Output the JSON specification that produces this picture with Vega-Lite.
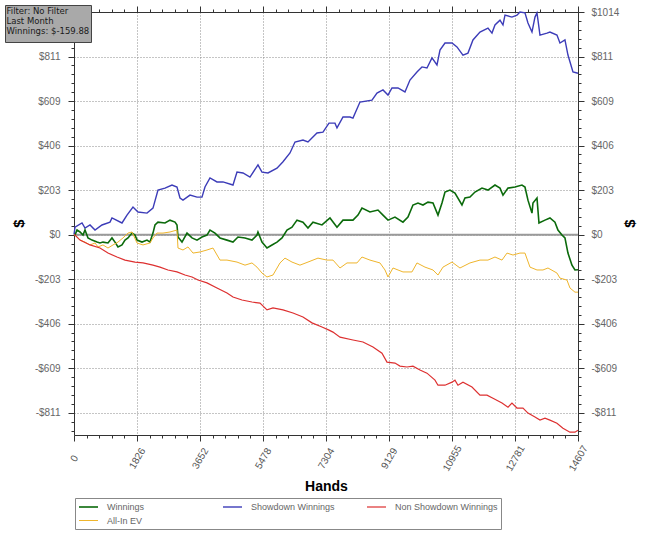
{
  "$schema": "https://vega.github.io/schema/vega-lite/v6.json",
  "width": 504,
  "height": 423,
  "autosize": {"type": "none"},
  "padding": {"left": 74, "top": 12, "right": 72, "bottom": 102},
  "background": "white",
  "config": {
    "view": {"stroke": null},
    "font": "Liberation Sans"
  },
  "datasets": {
    "zero": [{"label": "info"}]
  },
  "data": {
    "values": [
      {"hands": 0, "series": "Showdown Winnings", "value": 0},
      {"hands": 29, "series": "Showdown Winnings", "value": 34},
      {"hands": 232, "series": "Showdown Winnings", "value": 53},
      {"hands": 319, "series": "Showdown Winnings", "value": 30},
      {"hands": 464, "series": "Showdown Winnings", "value": 44},
      {"hands": 609, "series": "Showdown Winnings", "value": 21},
      {"hands": 811, "series": "Showdown Winnings", "value": 44},
      {"hands": 1043, "series": "Showdown Winnings", "value": 57},
      {"hands": 1101, "series": "Showdown Winnings", "value": 76},
      {"hands": 1391, "series": "Showdown Winnings", "value": 53},
      {"hands": 1536, "series": "Showdown Winnings", "value": 89},
      {"hands": 1710, "series": "Showdown Winnings", "value": 126},
      {"hands": 1855, "series": "Showdown Winnings", "value": 103},
      {"hands": 2116, "series": "Showdown Winnings", "value": 98},
      {"hands": 2289, "series": "Showdown Winnings", "value": 121},
      {"hands": 2434, "series": "Showdown Winnings", "value": 203},
      {"hands": 2637, "series": "Showdown Winnings", "value": 212},
      {"hands": 2840, "series": "Showdown Winnings", "value": 226},
      {"hands": 2985, "series": "Showdown Winnings", "value": 217},
      {"hands": 3072, "series": "Showdown Winnings", "value": 167},
      {"hands": 3159, "series": "Showdown Winnings", "value": 157},
      {"hands": 3362, "series": "Showdown Winnings", "value": 180},
      {"hands": 3565, "series": "Showdown Winnings", "value": 171},
      {"hands": 3709, "series": "Showdown Winnings", "value": 171},
      {"hands": 3796, "series": "Showdown Winnings", "value": 217},
      {"hands": 3941, "series": "Showdown Winnings", "value": 258},
      {"hands": 4144, "series": "Showdown Winnings", "value": 240},
      {"hands": 4318, "series": "Showdown Winnings", "value": 240},
      {"hands": 4608, "series": "Showdown Winnings", "value": 226},
      {"hands": 4724, "series": "Showdown Winnings", "value": 285},
      {"hands": 4898, "series": "Showdown Winnings", "value": 281},
      {"hands": 5100, "series": "Showdown Winnings", "value": 262},
      {"hands": 5332, "series": "Showdown Winnings", "value": 318},
      {"hands": 5448, "series": "Showdown Winnings", "value": 285},
      {"hands": 5622, "series": "Showdown Winnings", "value": 281},
      {"hands": 5883, "series": "Showdown Winnings", "value": 303},
      {"hands": 6057, "series": "Showdown Winnings", "value": 332},
      {"hands": 6260, "series": "Showdown Winnings", "value": 372},
      {"hands": 6405, "series": "Showdown Winnings", "value": 422},
      {"hands": 6636, "series": "Showdown Winnings", "value": 431},
      {"hands": 6781, "series": "Showdown Winnings", "value": 422},
      {"hands": 7042, "series": "Showdown Winnings", "value": 463},
      {"hands": 7216, "series": "Showdown Winnings", "value": 467},
      {"hands": 7390, "series": "Showdown Winnings", "value": 508},
      {"hands": 7564, "series": "Showdown Winnings", "value": 508},
      {"hands": 7622, "series": "Showdown Winnings", "value": 486},
      {"hands": 7796, "series": "Showdown Winnings", "value": 536},
      {"hands": 7998, "series": "Showdown Winnings", "value": 536},
      {"hands": 8085, "series": "Showdown Winnings", "value": 531},
      {"hands": 8288, "series": "Showdown Winnings", "value": 604},
      {"hands": 8636, "series": "Showdown Winnings", "value": 613},
      {"hands": 8781, "series": "Showdown Winnings", "value": 645},
      {"hands": 8955, "series": "Showdown Winnings", "value": 659},
      {"hands": 9100, "series": "Showdown Winnings", "value": 636},
      {"hands": 9216, "series": "Showdown Winnings", "value": 668},
      {"hands": 9390, "series": "Showdown Winnings", "value": 668},
      {"hands": 9592, "series": "Showdown Winnings", "value": 650},
      {"hands": 9737, "series": "Showdown Winnings", "value": 704},
      {"hands": 9940, "series": "Showdown Winnings", "value": 741},
      {"hands": 10085, "series": "Showdown Winnings", "value": 764},
      {"hands": 10230, "series": "Showdown Winnings", "value": 759},
      {"hands": 10375, "series": "Showdown Winnings", "value": 805},
      {"hands": 10520, "series": "Showdown Winnings", "value": 773},
      {"hands": 10607, "series": "Showdown Winnings", "value": 841},
      {"hands": 10752, "series": "Showdown Winnings", "value": 873},
      {"hands": 10955, "series": "Showdown Winnings", "value": 873},
      {"hands": 11099, "series": "Showdown Winnings", "value": 855},
      {"hands": 11273, "series": "Showdown Winnings", "value": 818},
      {"hands": 11418, "series": "Showdown Winnings", "value": 827},
      {"hands": 11563, "series": "Showdown Winnings", "value": 887},
      {"hands": 11766, "series": "Showdown Winnings", "value": 923},
      {"hands": 11998, "series": "Showdown Winnings", "value": 941},
      {"hands": 12114, "series": "Showdown Winnings", "value": 918},
      {"hands": 12201, "series": "Showdown Winnings", "value": 955},
      {"hands": 12346, "series": "Showdown Winnings", "value": 977},
      {"hands": 12433, "series": "Showdown Winnings", "value": 955},
      {"hands": 12491, "series": "Showdown Winnings", "value": 1000},
      {"hands": 12693, "series": "Showdown Winnings", "value": 991},
      {"hands": 12838, "series": "Showdown Winnings", "value": 1000},
      {"hands": 12925, "series": "Showdown Winnings", "value": 1014},
      {"hands": 13070, "series": "Showdown Winnings", "value": 1010},
      {"hands": 13157, "series": "Showdown Winnings", "value": 964},
      {"hands": 13273, "series": "Showdown Winnings", "value": 923},
      {"hands": 13360, "series": "Showdown Winnings", "value": 991},
      {"hands": 13418, "series": "Showdown Winnings", "value": 1010},
      {"hands": 13447, "series": "Showdown Winnings", "value": 977},
      {"hands": 13505, "series": "Showdown Winnings", "value": 909},
      {"hands": 13708, "series": "Showdown Winnings", "value": 918},
      {"hands": 13794, "series": "Showdown Winnings", "value": 923},
      {"hands": 13997, "series": "Showdown Winnings", "value": 909},
      {"hands": 14084, "series": "Showdown Winnings", "value": 873},
      {"hands": 14229, "series": "Showdown Winnings", "value": 887},
      {"hands": 14316, "series": "Showdown Winnings", "value": 818},
      {"hands": 14461, "series": "Showdown Winnings", "value": 741},
      {"hands": 14607, "series": "Showdown Winnings", "value": 735},

      {"hands": 0, "series": "Winnings", "value": 0},
      {"hands": 29, "series": "Winnings", "value": -2},
      {"hands": 87, "series": "Winnings", "value": 21},
      {"hands": 174, "series": "Winnings", "value": 12},
      {"hands": 261, "series": "Winnings", "value": -2},
      {"hands": 319, "series": "Winnings", "value": 21},
      {"hands": 406, "series": "Winnings", "value": -15},
      {"hands": 522, "series": "Winnings", "value": -25},
      {"hands": 667, "series": "Winnings", "value": -34},
      {"hands": 753, "series": "Winnings", "value": -38},
      {"hands": 840, "series": "Winnings", "value": -34},
      {"hands": 985, "series": "Winnings", "value": -38},
      {"hands": 1101, "series": "Winnings", "value": -15},
      {"hands": 1188, "series": "Winnings", "value": -34},
      {"hands": 1275, "series": "Winnings", "value": -56},
      {"hands": 1391, "series": "Winnings", "value": -47},
      {"hands": 1478, "series": "Winnings", "value": -25},
      {"hands": 1565, "series": "Winnings", "value": -15},
      {"hands": 1681, "series": "Winnings", "value": 7},
      {"hands": 1768, "series": "Winnings", "value": -2},
      {"hands": 1826, "series": "Winnings", "value": -25},
      {"hands": 1971, "series": "Winnings", "value": -34},
      {"hands": 2116, "series": "Winnings", "value": -25},
      {"hands": 2202, "series": "Winnings", "value": -34},
      {"hands": 2289, "series": "Winnings", "value": 7},
      {"hands": 2347, "series": "Winnings", "value": 44},
      {"hands": 2434, "series": "Winnings", "value": 57},
      {"hands": 2637, "series": "Winnings", "value": 53},
      {"hands": 2782, "series": "Winnings", "value": 66},
      {"hands": 2927, "series": "Winnings", "value": 57},
      {"hands": 2985, "series": "Winnings", "value": 44},
      {"hands": 3014, "series": "Winnings", "value": -11},
      {"hands": 3130, "series": "Winnings", "value": -34},
      {"hands": 3275, "series": "Winnings", "value": 7},
      {"hands": 3420, "series": "Winnings", "value": -15},
      {"hands": 3565, "series": "Winnings", "value": -25},
      {"hands": 3709, "series": "Winnings", "value": -11},
      {"hands": 3854, "series": "Winnings", "value": -2},
      {"hands": 3941, "series": "Winnings", "value": 21},
      {"hands": 4086, "series": "Winnings", "value": 7},
      {"hands": 4231, "series": "Winnings", "value": -15},
      {"hands": 4434, "series": "Winnings", "value": -25},
      {"hands": 4608, "series": "Winnings", "value": -34},
      {"hands": 4753, "series": "Winnings", "value": -11},
      {"hands": 4956, "series": "Winnings", "value": -15},
      {"hands": 5158, "series": "Winnings", "value": -25},
      {"hands": 5303, "series": "Winnings", "value": -2},
      {"hands": 5332, "series": "Winnings", "value": 12},
      {"hands": 5448, "series": "Winnings", "value": -34},
      {"hands": 5593, "series": "Winnings", "value": -61},
      {"hands": 5738, "series": "Winnings", "value": -47},
      {"hands": 5883, "series": "Winnings", "value": -34},
      {"hands": 6028, "series": "Winnings", "value": -15},
      {"hands": 6173, "series": "Winnings", "value": 21},
      {"hands": 6318, "series": "Winnings", "value": 34},
      {"hands": 6463, "series": "Winnings", "value": 66},
      {"hands": 6636, "series": "Winnings", "value": 57},
      {"hands": 6781, "series": "Winnings", "value": 30},
      {"hands": 6926, "series": "Winnings", "value": 57},
      {"hands": 7187, "series": "Winnings", "value": 44},
      {"hands": 7419, "series": "Winnings", "value": 76},
      {"hands": 7622, "series": "Winnings", "value": 34},
      {"hands": 7796, "series": "Winnings", "value": 66},
      {"hands": 8085, "series": "Winnings", "value": 66},
      {"hands": 8230, "series": "Winnings", "value": 89},
      {"hands": 8346, "series": "Winnings", "value": 121},
      {"hands": 8578, "series": "Winnings", "value": 103},
      {"hands": 8810, "series": "Winnings", "value": 112},
      {"hands": 8955, "series": "Winnings", "value": 89},
      {"hands": 9100, "series": "Winnings", "value": 66},
      {"hands": 9303, "series": "Winnings", "value": 80},
      {"hands": 9534, "series": "Winnings", "value": 57},
      {"hands": 9679, "series": "Winnings", "value": 80},
      {"hands": 9824, "series": "Winnings", "value": 135},
      {"hands": 9969, "series": "Winnings", "value": 144},
      {"hands": 10114, "series": "Winnings", "value": 135},
      {"hands": 10259, "series": "Winnings", "value": 148},
      {"hands": 10404, "series": "Winnings", "value": 144},
      {"hands": 10549, "series": "Winnings", "value": 89},
      {"hands": 10665, "series": "Winnings", "value": 144},
      {"hands": 10752, "series": "Winnings", "value": 194},
      {"hands": 10896, "series": "Winnings", "value": 203},
      {"hands": 11041, "series": "Winnings", "value": 189},
      {"hands": 11244, "series": "Winnings", "value": 135},
      {"hands": 11331, "series": "Winnings", "value": 167},
      {"hands": 11476, "series": "Winnings", "value": 171},
      {"hands": 11621, "series": "Winnings", "value": 194},
      {"hands": 11824, "series": "Winnings", "value": 212},
      {"hands": 11998, "series": "Winnings", "value": 203},
      {"hands": 12201, "series": "Winnings", "value": 226},
      {"hands": 12346, "series": "Winnings", "value": 212},
      {"hands": 12433, "series": "Winnings", "value": 180},
      {"hands": 12578, "series": "Winnings", "value": 212},
      {"hands": 12780, "series": "Winnings", "value": 217},
      {"hands": 12983, "series": "Winnings", "value": 226},
      {"hands": 13070, "series": "Winnings", "value": 217},
      {"hands": 13157, "series": "Winnings", "value": 157},
      {"hands": 13273, "series": "Winnings", "value": 98},
      {"hands": 13302, "series": "Winnings", "value": 144},
      {"hands": 13418, "series": "Winnings", "value": 167},
      {"hands": 13476, "series": "Winnings", "value": 53},
      {"hands": 13650, "series": "Winnings", "value": 66},
      {"hands": 13794, "series": "Winnings", "value": 76},
      {"hands": 13939, "series": "Winnings", "value": 57},
      {"hands": 14026, "series": "Winnings", "value": 21},
      {"hands": 14142, "series": "Winnings", "value": -2},
      {"hands": 14229, "series": "Winnings", "value": -15},
      {"hands": 14316, "series": "Winnings", "value": -84},
      {"hands": 14432, "series": "Winnings", "value": -139},
      {"hands": 14519, "series": "Winnings", "value": -161},
      {"hands": 14607, "series": "Winnings", "value": -160},

      {"hands": 0, "series": "All-In EV", "value": 0},
      {"hands": 29, "series": "All-In EV", "value": -2},
      {"hands": 174, "series": "All-In EV", "value": -25},
      {"hands": 319, "series": "All-In EV", "value": -34},
      {"hands": 464, "series": "All-In EV", "value": -47},
      {"hands": 609, "series": "All-In EV", "value": -38},
      {"hands": 696, "series": "All-In EV", "value": -56},
      {"hands": 840, "series": "All-In EV", "value": -47},
      {"hands": 985, "series": "All-In EV", "value": -61},
      {"hands": 1130, "series": "All-In EV", "value": -47},
      {"hands": 1275, "series": "All-In EV", "value": -34},
      {"hands": 1420, "series": "All-In EV", "value": -15},
      {"hands": 1565, "series": "All-In EV", "value": 7},
      {"hands": 1681, "series": "All-In EV", "value": 12},
      {"hands": 1826, "series": "All-In EV", "value": -38},
      {"hands": 2000, "series": "All-In EV", "value": -47},
      {"hands": 2202, "series": "All-In EV", "value": -38},
      {"hands": 2289, "series": "All-In EV", "value": -15},
      {"hands": 2405, "series": "All-In EV", "value": 7},
      {"hands": 2579, "series": "All-In EV", "value": 7},
      {"hands": 2782, "series": "All-In EV", "value": 12},
      {"hands": 2985, "series": "All-In EV", "value": 21},
      {"hands": 3014, "series": "All-In EV", "value": -61},
      {"hands": 3159, "series": "All-In EV", "value": -70},
      {"hands": 3304, "series": "All-In EV", "value": -56},
      {"hands": 3449, "series": "All-In EV", "value": -84},
      {"hands": 3652, "series": "All-In EV", "value": -79},
      {"hands": 3854, "series": "All-In EV", "value": -70},
      {"hands": 4028, "series": "All-In EV", "value": -61},
      {"hands": 4231, "series": "All-In EV", "value": -116},
      {"hands": 4434, "series": "All-In EV", "value": -116},
      {"hands": 4724, "series": "All-In EV", "value": -125},
      {"hands": 4956, "series": "All-In EV", "value": -139},
      {"hands": 5158, "series": "All-In EV", "value": -129},
      {"hands": 5303, "series": "All-In EV", "value": -148},
      {"hands": 5448, "series": "All-In EV", "value": -175},
      {"hands": 5593, "series": "All-In EV", "value": -193},
      {"hands": 5767, "series": "All-In EV", "value": -184},
      {"hands": 5970, "series": "All-In EV", "value": -129},
      {"hands": 6115, "series": "All-In EV", "value": -107},
      {"hands": 6318, "series": "All-In EV", "value": -125},
      {"hands": 6549, "series": "All-In EV", "value": -139},
      {"hands": 6781, "series": "All-In EV", "value": -125},
      {"hands": 7071, "series": "All-In EV", "value": -107},
      {"hands": 7332, "series": "All-In EV", "value": -116},
      {"hands": 7506, "series": "All-In EV", "value": -116},
      {"hands": 7709, "series": "All-In EV", "value": -152},
      {"hands": 7912, "series": "All-In EV", "value": -129},
      {"hands": 8201, "series": "All-In EV", "value": -129},
      {"hands": 8346, "series": "All-In EV", "value": -102},
      {"hands": 8578, "series": "All-In EV", "value": -116},
      {"hands": 8868, "series": "All-In EV", "value": -129},
      {"hands": 9013, "series": "All-In EV", "value": -161},
      {"hands": 9100, "series": "All-In EV", "value": -193},
      {"hands": 9245, "series": "All-In EV", "value": -152},
      {"hands": 9534, "series": "All-In EV", "value": -170},
      {"hands": 9795, "series": "All-In EV", "value": -170},
      {"hands": 9940, "series": "All-In EV", "value": -129},
      {"hands": 10172, "series": "All-In EV", "value": -148},
      {"hands": 10404, "series": "All-In EV", "value": -161},
      {"hands": 10549, "series": "All-In EV", "value": -184},
      {"hands": 10694, "series": "All-In EV", "value": -148},
      {"hands": 10955, "series": "All-In EV", "value": -125},
      {"hands": 11186, "series": "All-In EV", "value": -152},
      {"hands": 11476, "series": "All-In EV", "value": -129},
      {"hands": 11766, "series": "All-In EV", "value": -116},
      {"hands": 11998, "series": "All-In EV", "value": -116},
      {"hands": 12201, "series": "All-In EV", "value": -102},
      {"hands": 12404, "series": "All-In EV", "value": -116},
      {"hands": 12549, "series": "All-In EV", "value": -84},
      {"hands": 12722, "series": "All-In EV", "value": -93},
      {"hands": 12925, "series": "All-In EV", "value": -84},
      {"hands": 13070, "series": "All-In EV", "value": -84},
      {"hands": 13215, "series": "All-In EV", "value": -148},
      {"hands": 13418, "series": "All-In EV", "value": -161},
      {"hands": 13592, "series": "All-In EV", "value": -161},
      {"hands": 13737, "series": "All-In EV", "value": -152},
      {"hands": 13997, "series": "All-In EV", "value": -175},
      {"hands": 14084, "series": "All-In EV", "value": -198},
      {"hands": 14287, "series": "All-In EV", "value": -207},
      {"hands": 14374, "series": "All-In EV", "value": -243},
      {"hands": 14519, "series": "All-In EV", "value": -262},
      {"hands": 14607, "series": "All-In EV", "value": -262},

      {"hands": 0, "series": "Non Showdown Winnings", "value": 0},
      {"hands": 29, "series": "Non Showdown Winnings", "value": -2},
      {"hands": 174, "series": "Non Showdown Winnings", "value": -25},
      {"hands": 464, "series": "Non Showdown Winnings", "value": -47},
      {"hands": 753, "series": "Non Showdown Winnings", "value": -61},
      {"hands": 985, "series": "Non Showdown Winnings", "value": -84},
      {"hands": 1246, "series": "Non Showdown Winnings", "value": -102},
      {"hands": 1478, "series": "Non Showdown Winnings", "value": -116},
      {"hands": 1768, "series": "Non Showdown Winnings", "value": -125},
      {"hands": 2000, "series": "Non Showdown Winnings", "value": -129},
      {"hands": 2289, "series": "Non Showdown Winnings", "value": -139},
      {"hands": 2492, "series": "Non Showdown Winnings", "value": -148},
      {"hands": 2724, "series": "Non Showdown Winnings", "value": -161},
      {"hands": 2985, "series": "Non Showdown Winnings", "value": -170},
      {"hands": 3217, "series": "Non Showdown Winnings", "value": -184},
      {"hands": 3420, "series": "Non Showdown Winnings", "value": -193},
      {"hands": 3594, "series": "Non Showdown Winnings", "value": -207},
      {"hands": 3854, "series": "Non Showdown Winnings", "value": -220},
      {"hands": 4144, "series": "Non Showdown Winnings", "value": -243},
      {"hands": 4434, "series": "Non Showdown Winnings", "value": -266},
      {"hands": 4608, "series": "Non Showdown Winnings", "value": -284},
      {"hands": 4869, "series": "Non Showdown Winnings", "value": -298},
      {"hands": 5158, "series": "Non Showdown Winnings", "value": -307},
      {"hands": 5390, "series": "Non Showdown Winnings", "value": -312},
      {"hands": 5593, "series": "Non Showdown Winnings", "value": -343},
      {"hands": 5767, "series": "Non Showdown Winnings", "value": -334},
      {"hands": 6057, "series": "Non Showdown Winnings", "value": -343},
      {"hands": 6347, "series": "Non Showdown Winnings", "value": -357},
      {"hands": 6636, "series": "Non Showdown Winnings", "value": -375},
      {"hands": 6897, "series": "Non Showdown Winnings", "value": -402},
      {"hands": 7187, "series": "Non Showdown Winnings", "value": -421},
      {"hands": 7390, "series": "Non Showdown Winnings", "value": -435},
      {"hands": 7506, "series": "Non Showdown Winnings", "value": -444},
      {"hands": 7709, "series": "Non Showdown Winnings", "value": -467},
      {"hands": 8085, "series": "Non Showdown Winnings", "value": -480},
      {"hands": 8375, "series": "Non Showdown Winnings", "value": -489},
      {"hands": 8665, "series": "Non Showdown Winnings", "value": -512},
      {"hands": 8926, "series": "Non Showdown Winnings", "value": -540},
      {"hands": 9071, "series": "Non Showdown Winnings", "value": -581},
      {"hands": 9303, "series": "Non Showdown Winnings", "value": -585},
      {"hands": 9447, "series": "Non Showdown Winnings", "value": -599},
      {"hands": 9650, "series": "Non Showdown Winnings", "value": -603},
      {"hands": 9824, "series": "Non Showdown Winnings", "value": -599},
      {"hands": 10027, "series": "Non Showdown Winnings", "value": -617},
      {"hands": 10230, "series": "Non Showdown Winnings", "value": -631},
      {"hands": 10462, "series": "Non Showdown Winnings", "value": -663},
      {"hands": 10549, "series": "Non Showdown Winnings", "value": -686},
      {"hands": 10752, "series": "Non Showdown Winnings", "value": -686},
      {"hands": 10955, "series": "Non Showdown Winnings", "value": -672},
      {"hands": 11041, "series": "Non Showdown Winnings", "value": -663},
      {"hands": 11128, "series": "Non Showdown Winnings", "value": -686},
      {"hands": 11273, "series": "Non Showdown Winnings", "value": -672},
      {"hands": 11534, "series": "Non Showdown Winnings", "value": -694},
      {"hands": 11766, "series": "Non Showdown Winnings", "value": -731},
      {"hands": 11969, "series": "Non Showdown Winnings", "value": -731},
      {"hands": 12143, "series": "Non Showdown Winnings", "value": -745},
      {"hands": 12404, "series": "Non Showdown Winnings", "value": -767},
      {"hands": 12578, "series": "Non Showdown Winnings", "value": -786},
      {"hands": 12693, "series": "Non Showdown Winnings", "value": -767},
      {"hands": 12838, "series": "Non Showdown Winnings", "value": -790},
      {"hands": 13012, "series": "Non Showdown Winnings", "value": -790},
      {"hands": 13157, "series": "Non Showdown Winnings", "value": -813},
      {"hands": 13360, "series": "Non Showdown Winnings", "value": -831},
      {"hands": 13505, "series": "Non Showdown Winnings", "value": -845},
      {"hands": 13650, "series": "Non Showdown Winnings", "value": -836},
      {"hands": 13794, "series": "Non Showdown Winnings", "value": -845},
      {"hands": 13997, "series": "Non Showdown Winnings", "value": -859},
      {"hands": 14171, "series": "Non Showdown Winnings", "value": -882},
      {"hands": 14374, "series": "Non Showdown Winnings", "value": -900},
      {"hands": 14519, "series": "Non Showdown Winnings", "value": -900},
      {"hands": 14607, "series": "Non Showdown Winnings", "value": -891}
    ]
  },
  "layer": [
    {
      "data": {"name": "zero"},
      "mark": {"type": "rule", "color": "#9a9a9a", "strokeWidth": 2},
      "encoding": {
        "x": {
          "datum": 0,
          "type": "quantitative",
          "scale": {"domain": [0, 14607], "nice": false, "zero": false},
          "axis": {
            "orient": "top",
            "title": null,
            "grid": false,
            "labels": false,
            "values": [0, 365.175, 730.35, 1095.525, 1460.7, 1825.875, 2191.05, 2556.225, 2921.4, 3286.575, 3651.75, 4016.925, 4382.1, 4747.275, 5112.45, 5477.625, 5842.8, 6207.975, 6573.15, 6938.325, 7303.5, 7668.675, 8033.85, 8399.025, 8764.2, 9129.375, 9494.55, 9859.725, 10224.9, 10590.075, 10955.25, 11320.425, 11685.6, 12050.775, 12415.95, 12781.125, 13146.3, 13511.475, 13876.65, 14241.825, 14607],
            "tickSize": {"condition": {"test": "abs(datum.value/1825.875 - round(datum.value/1825.875)) < 0.05", "value": 6}, "value": 3},
            "domainColor": "#333",
            "tickColor": "#333"
          }
        },
        "x2": {"datum": 14607},
        "y": {
          "datum": 0,
          "type": "quantitative",
          "scale": {"domain": [-912.8, 1014.2], "nice": false, "zero": false},
          "axis": {
            "orient": "right",
            "title": "$",
            "titleX": 51,
            "titleY": 211,
            "titleAngle": -90,
            "titleAlign": "center",
            "titleBaseline": "middle",
            "titleFontSize": 15,
            "titleFontWeight": "bold",
            "titleColor": "#000",
            "grid": false,
            "values": [-892.5, -851.93, -811.36, -770.79, -730.22, -689.66, -649.09, -608.52, -567.95, -527.38, -486.82, -446.25, -405.68, -365.11, -324.54, -283.98, -243.41, -202.84, -162.27, -121.7, -81.14, -40.57, 0, 40.57, 81.14, 121.7, 162.27, 202.84, 243.41, 283.98, 324.54, 365.11, 405.68, 446.25, 486.82, 527.38, 567.95, 608.52, 649.09, 689.66, 730.22, 770.79, 811.36, 851.93, 892.5, 933.06, 973.63, 1014.2],
            "labelExpr": "abs(datum.value/202.84 - round(datum.value/202.84)) < 0.05 ? (datum.value < -0.5 ? '-$' + format(-datum.value, '.0f') : '$' + format(abs(datum.value), '.0f')) : ''",
            "labelOverlap": false,
            "labelFlush": false,
            "labelFontSize": 10,
            "labelColor": "#666",
            "labelPadding": 7,
            "tickSize": {"condition": {"test": "abs(datum.value/202.84 - round(datum.value/202.84)) < 0.05", "value": 6}, "value": 3},
            "domainColor": "#333",
            "tickColor": "#333"
          }
        },
        "strokeDash": {
          "field": "label",
          "type": "nominal",
          "legend": {
            "title": ["Filter: No Filter", "Last Month", "Winnings: $-159.88"],
            "titleFont": "DejaVu Sans",
            "titleFontSize": 8.5,
            "titleFontWeight": "normal",
            "titleColor": "#1a1a1a",
            "titleLineHeight": 10,
            "titlePadding": 0,
            "labelExpr": "''",
            "labelFontSize": 0,
            "symbolSize": 0,
            "symbolOpacity": 0,
            "symbolStrokeWidth": 0,
            "orient": "none",
            "legendX": -69,
            "legendY": -7,
            "padding": 1.5,
            "fillColor": "#a9a9a9",
            "strokeColor": "#444"
          }
        }
      }
    },
    {
      "mark": {"type": "line", "interpolate": "linear"},
      "encoding": {
        "x": {
          "field": "hands",
          "type": "quantitative",
          "scale": {"domain": [0, 14607], "nice": false, "zero": false},
          "axis": {
            "orient": "bottom",
            "title": "Hands",
            "titleFontSize": 14,
            "titleFontWeight": "bold",
            "titleColor": "#000",
            "titleY": 51,
            "titleBaseline": "middle",
            "values": [0, 365.175, 730.35, 1095.525, 1460.7, 1825.875, 2191.05, 2556.225, 2921.4, 3286.575, 3651.75, 4016.925, 4382.1, 4747.275, 5112.45, 5477.625, 5842.8, 6207.975, 6573.15, 6938.325, 7303.5, 7668.675, 8033.85, 8399.025, 8764.2, 9129.375, 9494.55, 9859.725, 10224.9, 10590.075, 10955.25, 11320.425, 11685.6, 12050.775, 12415.95, 12781.125, 13146.3, 13511.475, 13876.65, 14241.825, 14607],
            "labelExpr": "abs(datum.value/1825.875 - round(datum.value/1825.875)) < 0.05 ? format(datum.value, '.0f') : ''",
            "labelAngle": -60,
            "labelAlign": "center",
            "labelBaseline": "middle",
            "labelPadding": 17,
            "labelOverlap": false,
            "labelFlush": false,
            "labelFontSize": 10,
            "labelColor": "#555",
            "tickSize": {"condition": {"test": "abs(datum.value/1825.875 - round(datum.value/1825.875)) < 0.05", "value": 6}, "value": 3},
            "grid": true,
            "gridDash": [1, 2],
            "gridColor": "#8a8a8a",
            "gridOpacity": {"condition": {"test": "abs(datum.value/1825.875 - round(datum.value/1825.875)) < 0.05", "value": 1}, "value": 0},
            "domainColor": "#333",
            "tickColor": "#333"
          }
        },
        "y": {
          "field": "value",
          "type": "quantitative",
          "scale": {"domain": [-912.8, 1014.2], "nice": false, "zero": false},
          "axis": {
            "orient": "left",
            "title": "$",
            "titleX": -56,
            "titleY": 211,
            "titleAngle": -90,
            "titleAlign": "center",
            "titleBaseline": "middle",
            "titleFontSize": 15,
            "titleFontWeight": "bold",
            "titleColor": "#000",
            "values": [-892.5, -851.93, -811.36, -770.79, -730.22, -689.66, -649.09, -608.52, -567.95, -527.38, -486.82, -446.25, -405.68, -365.11, -324.54, -283.98, -243.41, -202.84, -162.27, -121.7, -81.14, -40.57, 0, 40.57, 81.14, 121.7, 162.27, 202.84, 243.41, 283.98, 324.54, 365.11, 405.68, 446.25, 486.82, 527.38, 567.95, 608.52, 649.09, 689.66, 730.22, 770.79, 811.36, 851.93, 892.5, 933.06, 973.63, 1014.2],
            "labelExpr": "abs(datum.value/202.84 - round(datum.value/202.84)) < 0.05 ? (datum.value < -0.5 ? '-$' + format(-datum.value, '.0f') : '$' + format(abs(datum.value), '.0f')) : ''",
            "labelOverlap": false,
            "labelFlush": false,
            "labelFontSize": 10,
            "labelColor": "#666",
            "labelPadding": 8,
            "tickSize": {"condition": {"test": "abs(datum.value/202.84 - round(datum.value/202.84)) < 0.05", "value": 6}, "value": 3},
            "grid": true,
            "gridDash": [1, 2],
            "gridColor": "#8a8a8a",
            "gridOpacity": {"condition": {"test": "abs(datum.value/202.84 - round(datum.value/202.84)) < 0.05", "value": 1}, "value": 0},
            "domainColor": "#333",
            "tickColor": "#333"
          }
        },
        "color": {
          "field": "series",
          "type": "nominal",
          "scale": {
            "domain": ["Winnings", "Showdown Winnings", "Non Showdown Winnings", "All-In EV"],
            "range": ["#0b6a0b", "#3c3cb8", "#dd3030", "#efb52c"]
          },
          "legend": {
            "title": null,
            "orient": "none",
            "legendX": 1,
            "legendY": 486,
            "direction": "horizontal",
            "columns": 3,
            "gridAlign": "all",
            "symbolType": "M-1,0H2.8",
            "symbolSize": 100,
            "symbolStrokeWidth": 1,
            "labelFontSize": 9,
            "labelColor": "#666",
            "labelOffset": 17,
            "strokeColor": "#888",
            "fillColor": "white",
            "padding": 3,
            "columnPadding": 10,
            "rowPadding": 3
          }
        },
        "strokeWidth": {
          "field": "series",
          "type": "nominal",
          "scale": {
            "domain": ["Winnings", "Showdown Winnings", "Non Showdown Winnings", "All-In EV"],
            "range": [1.6, 1, 1, 1]
          },
          "legend": null
        }
      }
    }
  ],
  "resolve": {"axis": {"x": "independent", "y": "independent"}}
}
